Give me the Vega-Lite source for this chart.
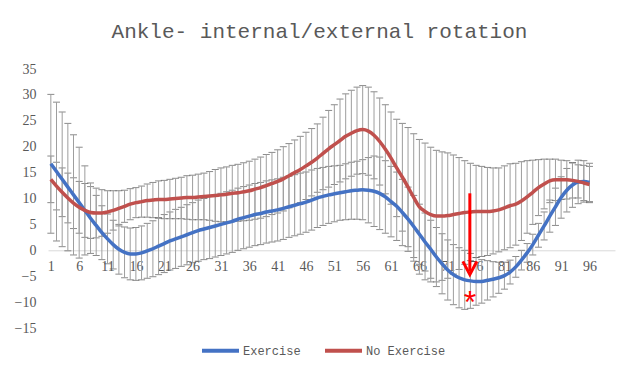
{
  "$schema": "https://vega.github.io/schema/vega-lite/v6.json",
  "autosize": "none",
  "width": 567,
  "height": 259,
  "padding": {"left": 48, "top": 69, "right": 25, "bottom": 56},
  "background": "white",
  "config": {"view": {"stroke": null}, "axis": {"labelOverlap": false, "labelBound": false, "labelFlush": false}},
  "title": {"text": "Ankle- internal/external rotation", "font": "Liberation Mono", "fontSize": 21, "fontWeight": "normal", "color": "#595959", "anchor": "middle", "dx": -12, "offset": 20},
  "datasets": {
    "annot": [{"x": 74.9, "mean": 11.0, "shaftEnd": -4.0, "tip": -4.7, "star": -8.8, "label": "*"}],
    "main": [
      {"x":1,"series":"Exercise","mean":16.7,"sd":13.4},{"x":2,"series":"Exercise","mean":15.2,"sd":13.4},{"x":3,"series":"Exercise","mean":13.7,"sd":13.0},{"x":4,"series":"Exercise","mean":12.2,"sd":12.3},{"x":5,"series":"Exercise","mean":10.7,"sd":11.6},{"x":6,"series":"Exercise","mean":9.2,"sd":10.7},{"x":7,"series":"Exercise","mean":7.7,"sd":8.6},{"x":8,"series":"Exercise","mean":6.2,"sd":6.8},{"x":9,"series":"Exercise","mean":4.8,"sd":5.8},{"x":10,"series":"Exercise","mean":3.4,"sd":5.2},
      {"x":11,"series":"Exercise","mean":2.2,"sd":4.8},{"x":12,"series":"Exercise","mean":1.1,"sd":4.7},{"x":13,"series":"Exercise","mean":0.2,"sd":4.8},{"x":14,"series":"Exercise","mean":-0.4,"sd":4.9},{"x":15,"series":"Exercise","mean":-0.7,"sd":5.0},{"x":16,"series":"Exercise","mean":-0.7,"sd":5.1},{"x":17,"series":"Exercise","mean":-0.5,"sd":5.2},{"x":18,"series":"Exercise","mean":-0.1,"sd":5.3},{"x":19,"series":"Exercise","mean":0.3,"sd":5.4},{"x":20,"series":"Exercise","mean":0.8,"sd":5.5},
      {"x":21,"series":"Exercise","mean":1.3,"sd":5.6},{"x":22,"series":"Exercise","mean":1.8,"sd":5.6},{"x":23,"series":"Exercise","mean":2.2,"sd":5.7},{"x":24,"series":"Exercise","mean":2.6,"sd":5.7},{"x":25,"series":"Exercise","mean":3.0,"sd":5.8},{"x":26,"series":"Exercise","mean":3.4,"sd":5.8},{"x":27,"series":"Exercise","mean":3.8,"sd":5.9},{"x":28,"series":"Exercise","mean":4.1,"sd":5.9},{"x":29,"series":"Exercise","mean":4.4,"sd":6.0},{"x":30,"series":"Exercise","mean":4.7,"sd":6.0},
      {"x":31,"series":"Exercise","mean":5.0,"sd":6.0},{"x":32,"series":"Exercise","mean":5.3,"sd":6.0},{"x":33,"series":"Exercise","mean":5.6,"sd":6.0},{"x":34,"series":"Exercise","mean":6.0,"sd":6.0},{"x":35,"series":"Exercise","mean":6.3,"sd":6.0},{"x":36,"series":"Exercise","mean":6.6,"sd":6.0},{"x":37,"series":"Exercise","mean":6.9,"sd":6.0},{"x":38,"series":"Exercise","mean":7.1,"sd":6.0},{"x":39,"series":"Exercise","mean":7.4,"sd":6.0},{"x":40,"series":"Exercise","mean":7.6,"sd":6.0},
      {"x":41,"series":"Exercise","mean":7.8,"sd":6.0},{"x":42,"series":"Exercise","mean":8.1,"sd":6.0},{"x":43,"series":"Exercise","mean":8.4,"sd":5.9},{"x":44,"series":"Exercise","mean":8.7,"sd":5.9},{"x":45,"series":"Exercise","mean":9.0,"sd":5.9},{"x":46,"series":"Exercise","mean":9.3,"sd":5.8},{"x":47,"series":"Exercise","mean":9.7,"sd":5.8},{"x":48,"series":"Exercise","mean":10.1,"sd":5.7},{"x":49,"series":"Exercise","mean":10.4,"sd":5.6},{"x":50,"series":"Exercise","mean":10.7,"sd":5.5},
      {"x":51,"series":"Exercise","mean":10.9,"sd":5.4},{"x":52,"series":"Exercise","mean":11.1,"sd":5.3},{"x":53,"series":"Exercise","mean":11.3,"sd":5.4},{"x":54,"series":"Exercise","mean":11.5,"sd":5.5},{"x":55,"series":"Exercise","mean":11.6,"sd":5.6},{"x":56,"series":"Exercise","mean":11.7,"sd":5.8},{"x":57,"series":"Exercise","mean":11.6,"sd":6.3},{"x":58,"series":"Exercise","mean":11.4,"sd":6.8},{"x":59,"series":"Exercise","mean":11.0,"sd":7.0},{"x":60,"series":"Exercise","mean":10.3,"sd":7.0},
      {"x":61,"series":"Exercise","mean":9.4,"sd":6.8},{"x":62,"series":"Exercise","mean":8.5,"sd":6.6},{"x":63,"series":"Exercise","mean":7.3,"sd":6.4},{"x":64,"series":"Exercise","mean":6.0,"sd":6.2},{"x":65,"series":"Exercise","mean":4.6,"sd":6.0},{"x":66,"series":"Exercise","mean":3.1,"sd":5.8},{"x":67,"series":"Exercise","mean":1.6,"sd":5.6},{"x":68,"series":"Exercise","mean":0.2,"sd":5.6},{"x":69,"series":"Exercise","mean":-1.3,"sd":5.7},{"x":70,"series":"Exercise","mean":-2.6,"sd":5.8},
      {"x":71,"series":"Exercise","mean":-3.8,"sd":5.8},{"x":72,"series":"Exercise","mean":-4.7,"sd":5.8},{"x":73,"series":"Exercise","mean":-5.3,"sd":5.8},{"x":74,"series":"Exercise","mean":-5.7,"sd":5.7},{"x":75,"series":"Exercise","mean":-5.9,"sd":5.3},{"x":76,"series":"Exercise","mean":-6.0,"sd":4.6},{"x":77,"series":"Exercise","mean":-6.0,"sd":4.2},{"x":78,"series":"Exercise","mean":-5.8,"sd":3.8},{"x":79,"series":"Exercise","mean":-5.6,"sd":3.4},{"x":80,"series":"Exercise","mean":-5.3,"sd":3.0},
      {"x":81,"series":"Exercise","mean":-4.9,"sd":2.6},{"x":82,"series":"Exercise","mean":-4.2,"sd":2.3},{"x":83,"series":"Exercise","mean":-3.2,"sd":2.0},{"x":84,"series":"Exercise","mean":-1.9,"sd":1.9},{"x":85,"series":"Exercise","mean":-0.5,"sd":1.8},{"x":86,"series":"Exercise","mean":1.1,"sd":2.0},{"x":87,"series":"Exercise","mean":2.9,"sd":2.3},{"x":88,"series":"Exercise","mean":4.7,"sd":2.7},{"x":89,"series":"Exercise","mean":6.6,"sd":3.1},{"x":90,"series":"Exercise","mean":8.4,"sd":3.6},
      {"x":91,"series":"Exercise","mean":10.2,"sd":4.0},{"x":92,"series":"Exercise","mean":11.6,"sd":4.2},{"x":93,"series":"Exercise","mean":12.6,"sd":4.3},{"x":94,"series":"Exercise","mean":13.2,"sd":4.2},{"x":95,"series":"Exercise","mean":13.3,"sd":4.0},{"x":96,"series":"Exercise","mean":13.1,"sd":3.7},
      {"x":1,"series":"No Exercise","mean":13.7,"sd":4.5},{"x":2,"series":"No Exercise","mean":12.4,"sd":4.6},{"x":3,"series":"No Exercise","mean":11.2,"sd":4.7},{"x":4,"series":"No Exercise","mean":10.1,"sd":4.8},{"x":5,"series":"No Exercise","mean":9.1,"sd":4.9},{"x":6,"series":"No Exercise","mean":8.3,"sd":5.0},{"x":7,"series":"No Exercise","mean":7.7,"sd":5.2},{"x":8,"series":"No Exercise","mean":7.3,"sd":5.0},{"x":9,"series":"No Exercise","mean":7.2,"sd":4.8},{"x":10,"series":"No Exercise","mean":7.2,"sd":4.5},
      {"x":11,"series":"No Exercise","mean":7.4,"sd":4.1},{"x":12,"series":"No Exercise","mean":7.7,"sd":3.8},{"x":13,"series":"No Exercise","mean":8.1,"sd":3.4},{"x":14,"series":"No Exercise","mean":8.5,"sd":3.1},{"x":15,"series":"No Exercise","mean":8.9,"sd":3.0},{"x":16,"series":"No Exercise","mean":9.2,"sd":2.9},{"x":17,"series":"No Exercise","mean":9.4,"sd":3.0},{"x":18,"series":"No Exercise","mean":9.6,"sd":3.2},{"x":19,"series":"No Exercise","mean":9.7,"sd":3.4},{"x":20,"series":"No Exercise","mean":9.8,"sd":3.6},
      {"x":21,"series":"No Exercise","mean":9.8,"sd":3.7},{"x":22,"series":"No Exercise","mean":9.9,"sd":3.8},{"x":23,"series":"No Exercise","mean":10.0,"sd":3.9},{"x":24,"series":"No Exercise","mean":10.1,"sd":4.0},{"x":25,"series":"No Exercise","mean":10.2,"sd":4.2},{"x":26,"series":"No Exercise","mean":10.2,"sd":4.3},{"x":27,"series":"No Exercise","mean":10.3,"sd":4.4},{"x":28,"series":"No Exercise","mean":10.4,"sd":4.5},{"x":29,"series":"No Exercise","mean":10.5,"sd":4.7},{"x":30,"series":"No Exercise","mean":10.6,"sd":5.0},
      {"x":31,"series":"No Exercise","mean":10.7,"sd":5.2},{"x":32,"series":"No Exercise","mean":10.8,"sd":5.3},{"x":33,"series":"No Exercise","mean":11.0,"sd":5.4},{"x":34,"series":"No Exercise","mean":11.1,"sd":5.5},{"x":35,"series":"No Exercise","mean":11.3,"sd":5.6},{"x":36,"series":"No Exercise","mean":11.5,"sd":5.7},{"x":37,"series":"No Exercise","mean":11.8,"sd":5.8},{"x":38,"series":"No Exercise","mean":12.1,"sd":5.9},{"x":39,"series":"No Exercise","mean":12.5,"sd":6.0},{"x":40,"series":"No Exercise","mean":12.9,"sd":6.0},
      {"x":41,"series":"No Exercise","mean":13.3,"sd":6.1},{"x":42,"series":"No Exercise","mean":13.8,"sd":6.2},{"x":43,"series":"No Exercise","mean":14.4,"sd":6.2},{"x":44,"series":"No Exercise","mean":15.0,"sd":6.3},{"x":45,"series":"No Exercise","mean":15.6,"sd":6.4},{"x":46,"series":"No Exercise","mean":16.3,"sd":6.5},{"x":47,"series":"No Exercise","mean":17.0,"sd":6.5},{"x":48,"series":"No Exercise","mean":17.8,"sd":6.6},{"x":49,"series":"No Exercise","mean":18.7,"sd":7.0},{"x":50,"series":"No Exercise","mean":19.6,"sd":7.4},
      {"x":51,"series":"No Exercise","mean":20.4,"sd":7.7},{"x":52,"series":"No Exercise","mean":21.2,"sd":8.0},{"x":53,"series":"No Exercise","mean":22.0,"sd":8.2},{"x":54,"series":"No Exercise","mean":22.6,"sd":8.3},{"x":55,"series":"No Exercise","mean":23.1,"sd":8.4},{"x":56,"series":"No Exercise","mean":23.3,"sd":8.5},{"x":57,"series":"No Exercise","mean":23.0,"sd":8.5},{"x":58,"series":"No Exercise","mean":22.2,"sd":8.4},{"x":59,"series":"No Exercise","mean":21.0,"sd":8.4},{"x":60,"series":"No Exercise","mean":19.5,"sd":8.6},
      {"x":61,"series":"No Exercise","mean":17.8,"sd":8.9},{"x":62,"series":"No Exercise","mean":15.9,"sd":9.4},{"x":63,"series":"No Exercise","mean":14.1,"sd":10.4},{"x":64,"series":"No Exercise","mean":12.2,"sd":11.5},{"x":65,"series":"No Exercise","mean":10.2,"sd":12.3},{"x":66,"series":"No Exercise","mean":8.4,"sd":13.0},{"x":67,"series":"No Exercise","mean":7.5,"sd":13.2},{"x":68,"series":"No Exercise","mean":6.9,"sd":13.0},{"x":69,"series":"No Exercise","mean":6.6,"sd":12.7},{"x":70,"series":"No Exercise","mean":6.6,"sd":12.4},
      {"x":71,"series":"No Exercise","mean":6.7,"sd":12.1},{"x":72,"series":"No Exercise","mean":6.9,"sd":11.5},{"x":73,"series":"No Exercise","mean":7.1,"sd":10.8},{"x":74,"series":"No Exercise","mean":7.3,"sd":10.0},{"x":75,"series":"No Exercise","mean":7.4,"sd":9.4},{"x":76,"series":"No Exercise","mean":7.5,"sd":8.9},{"x":77,"series":"No Exercise","mean":7.5,"sd":8.7},{"x":78,"series":"No Exercise","mean":7.5,"sd":8.5},{"x":79,"series":"No Exercise","mean":7.6,"sd":8.3},{"x":80,"series":"No Exercise","mean":7.8,"sd":8.1},
      {"x":81,"series":"No Exercise","mean":8.2,"sd":8.1},{"x":82,"series":"No Exercise","mean":8.6,"sd":8.1},{"x":83,"series":"No Exercise","mean":8.9,"sd":7.9},{"x":84,"series":"No Exercise","mean":9.5,"sd":7.6},{"x":85,"series":"No Exercise","mean":10.3,"sd":7.0},{"x":86,"series":"No Exercise","mean":11.2,"sd":6.2},{"x":87,"series":"No Exercise","mean":12.1,"sd":5.4},{"x":88,"series":"No Exercise","mean":12.8,"sd":4.8},{"x":89,"series":"No Exercise","mean":13.4,"sd":4.2},{"x":90,"series":"No Exercise","mean":13.6,"sd":4.0},
      {"x":91,"series":"No Exercise","mean":13.6,"sd":3.8},{"x":92,"series":"No Exercise","mean":13.6,"sd":3.7},{"x":93,"series":"No Exercise","mean":13.5,"sd":3.4},{"x":94,"series":"No Exercise","mean":13.3,"sd":3.2},{"x":95,"series":"No Exercise","mean":13.0,"sd":3.4},{"x":96,"series":"No Exercise","mean":12.7,"sd":3.5}
    ]
  },
  "encoding": {
    "x": {"field": "x", "type": "quantitative", "scale": {"domain": [0.5, 100.5], "nice": false, "zero": false},
      "axis": {"values": [1,6,11,16,21,26,31,36,41,46,51,56,61,66,71,76,81,86,91,96], "offset": -77.7, "ticks": false, "grid": false, "domainColor": "#D9D9D9", "labelFont": "Liberation Serif", "labelFontSize": 14, "labelColor": "#595959", "labelPadding": 9, "title": null, "labelFlush": false, "labelOverlap": false}},
    "y": {"field": "mean", "type": "quantitative", "scale": {"domain": [-15, 35], "nice": false, "zero": false},
      "axis": {"values": [-15,-10,-5,0,5,10,15,20,25,30,35], "ticks": false, "domain": false, "grid": false, "labelFont": "Liberation Serif", "labelFontSize": 14, "labelColor": "#595959", "labelPadding": 12, "title": null, "labelOverlap": false}}
  },
  "layer": [
    {
      "data": {"name": "main"},
      "mark": {"type": "errorbar", "ticks": {"color": "#595959", "strokeWidth": 1}, "rule": {"color": "#9E9E9E", "strokeWidth": 1}, "size": 7, "thickness": 1},
      "encoding": {
        "yError": {"field": "sd"}
      }
    },
    {
      "data": {"name": "main"},
      "mark": {"type": "line", "interpolate": "monotone", "strokeWidth": 3.5},
      "encoding": {
        "color": {"field": "series", "type": "nominal", "scale": {"domain": ["Exercise", "No Exercise"], "range": ["#4472C4", "#C0504D"]},
          "legend": {"orient": "none", "legendX": 152, "legendY": 261, "direction": "horizontal", "title": null, "symbolType": "stroke", "symbolSize": 1369, "symbolStrokeWidth": 4, "labelFont": "Liberation Mono", "labelFontSize": 12, "labelColor": "#595959", "columnPadding": 16, "labelOffset": 2, "padding": 0}}
      }
    },
    {
      "data": {"name": "annot"},
      "mark": {"type": "rule", "color": "#FF0000", "strokeWidth": 3},
      "encoding": {
        "y2": {"field": "shaftEnd"}
      }
    },
    {
      "data": {"name": "annot"},
      "mark": {"type": "point", "shape": "M-1,-1.9L0,0L1,-1.9", "filled": false, "color": "#FF0000", "strokeWidth": 3, "size": 196, "opacity": 1, "yOffset": 0},
      "encoding": {
        "y": {"field": "tip", "type": "quantitative", "axis": {"values": [-15,-10,-5,0,5,10,15,20,25,30,35], "ticks": false, "domain": false, "grid": false, "labelFont": "Liberation Serif", "labelFontSize": 14, "labelColor": "#595959", "labelPadding": 12, "title": null, "labelOverlap": false}}
      }
    },
    {
      "data": {"name": "annot"},
      "mark": {"type": "text", "color": "#FF0000", "font": "Liberation Sans", "fontSize": 32, "baseline": "middle", "align": "center", "dy": 7},
      "encoding": {
        "y": {"field": "star", "type": "quantitative", "axis": {"values": [-15,-10,-5,0,5,10,15,20,25,30,35], "ticks": false, "domain": false, "grid": false, "labelFont": "Liberation Serif", "labelFontSize": 14, "labelColor": "#595959", "labelPadding": 12, "title": null, "labelOverlap": false}},
        "text": {"field": "label"}
      }
    }
  ]
}
